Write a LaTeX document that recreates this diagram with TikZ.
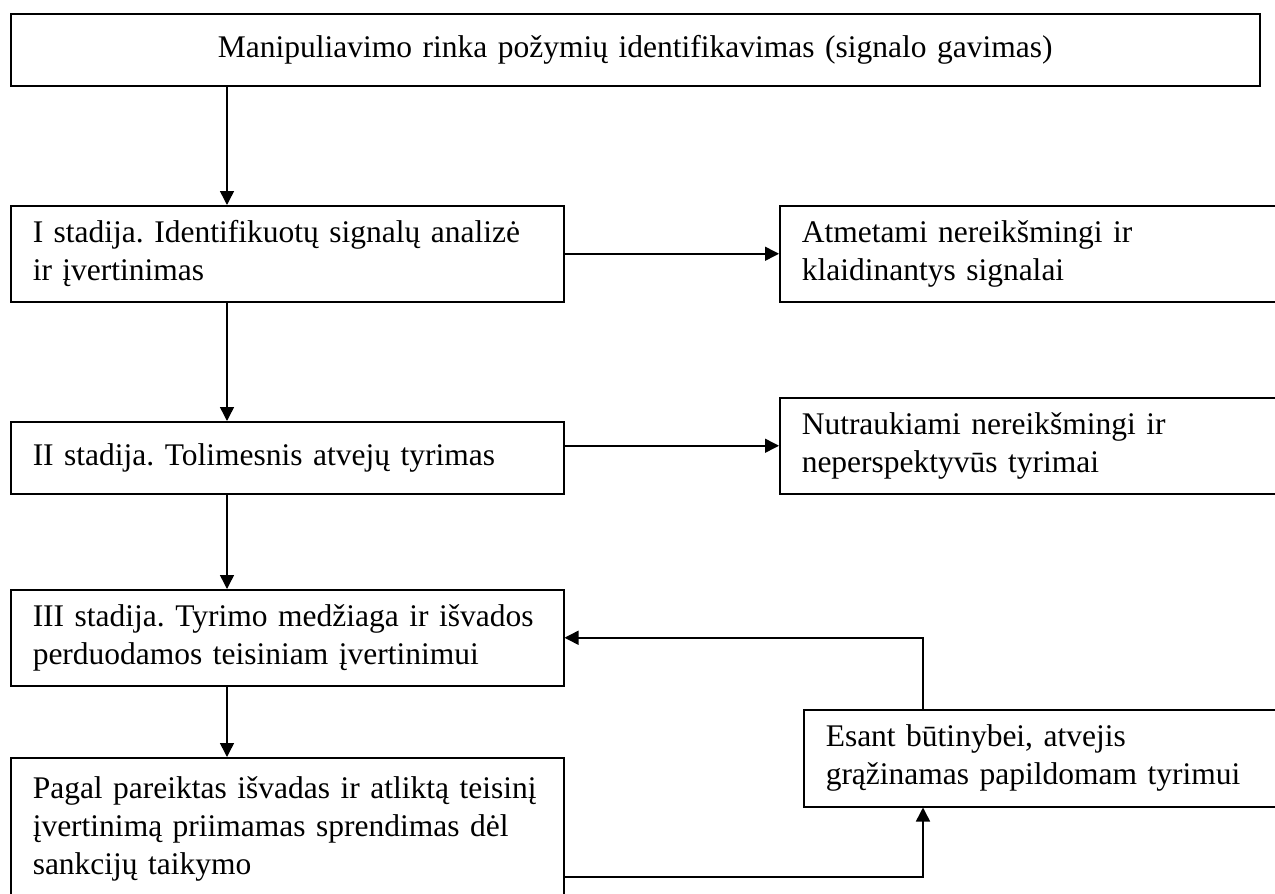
\documentclass[tikz,border=0pt]{standalone}
\usepackage{fontspec}
\setmainfont{Liberation Serif}
\usetikzlibrary{arrows.meta}
\frenchspacing
\tikzset{
  stage/.style={draw,line width=1.5pt,rectangle,anchor=north west,align=left,text width=509pt,inner xsep=22pt,inner ysep=0pt,font=\fontsize{31.5}{38}\selectfont},
  side/.style={stage,text width=469pt},
  arr/.style={line width=1.5pt,-{Triangle[length=14pt,width=14pt]}}
}
\begin{document}
\begin{tikzpicture}[x=1pt,y=-1pt]
\clip (0,0) rectangle (1275,894);
\node[stage,text width=1205pt,align=center,minimum height=72pt] (top) at (10,13) {Manipuliavimo rinka požymių identifikavimas (signalo gavimas)};
\node[stage,minimum height=96pt] (s1) at (10,205) {I stadija. Identifikuotų signalų analizė\\ir įvertinimas};
\node[stage,minimum height=72pt] (s2) at (10,421) {II stadija. Tolimesnis atvejų tyrimas};
\node[stage,minimum height=96pt] (s3) at (10,589) {III stadija. Tyrimo medžiaga ir išvados\\perduodamos teisiniam įvertinimui};
\node[stage,minimum height=142pt] (s4) at (10,757) {Pagal pareiktas išvadas ir atliktą teisinį\\įvertinimą priimamas sprendimas dėl\\sankcijų taikymo};
\node[side,minimum height=96pt] (r1) at (779,205) {Atmetami nereikšmingi ir\\klaidinantys signalai};
\node[side,minimum height=96pt] (r2) at (779,397) {Nutraukiami nereikšmingi ir\\neperspektyvūs tyrimai};
\node[side,minimum height=97pt] (back) at (803,709) {Esant būtinybei, atvejis\\grąžinamas papildomam tyrimui};
\coordinate (spine) at (227,0);
\coordinate (loop) at (923,877);
\foreach \a/\b in {top/s1,s1/s2,s2/s3,s3/s4}
  \draw[arr] (\a.south -| spine) -- (\b.north -| spine);
\draw[arr] (s1.east) -- (r1.west);
\draw[arr] (r2.west -| s2.east) -- (r2.west);
\draw[arr] (loop -| s4.east) -- (loop) -- (back.south -| loop);
\draw[arr] (back.north -| loop) -- (s3.east -| loop) -- (s3.east);
\end{tikzpicture}
\end{document}
